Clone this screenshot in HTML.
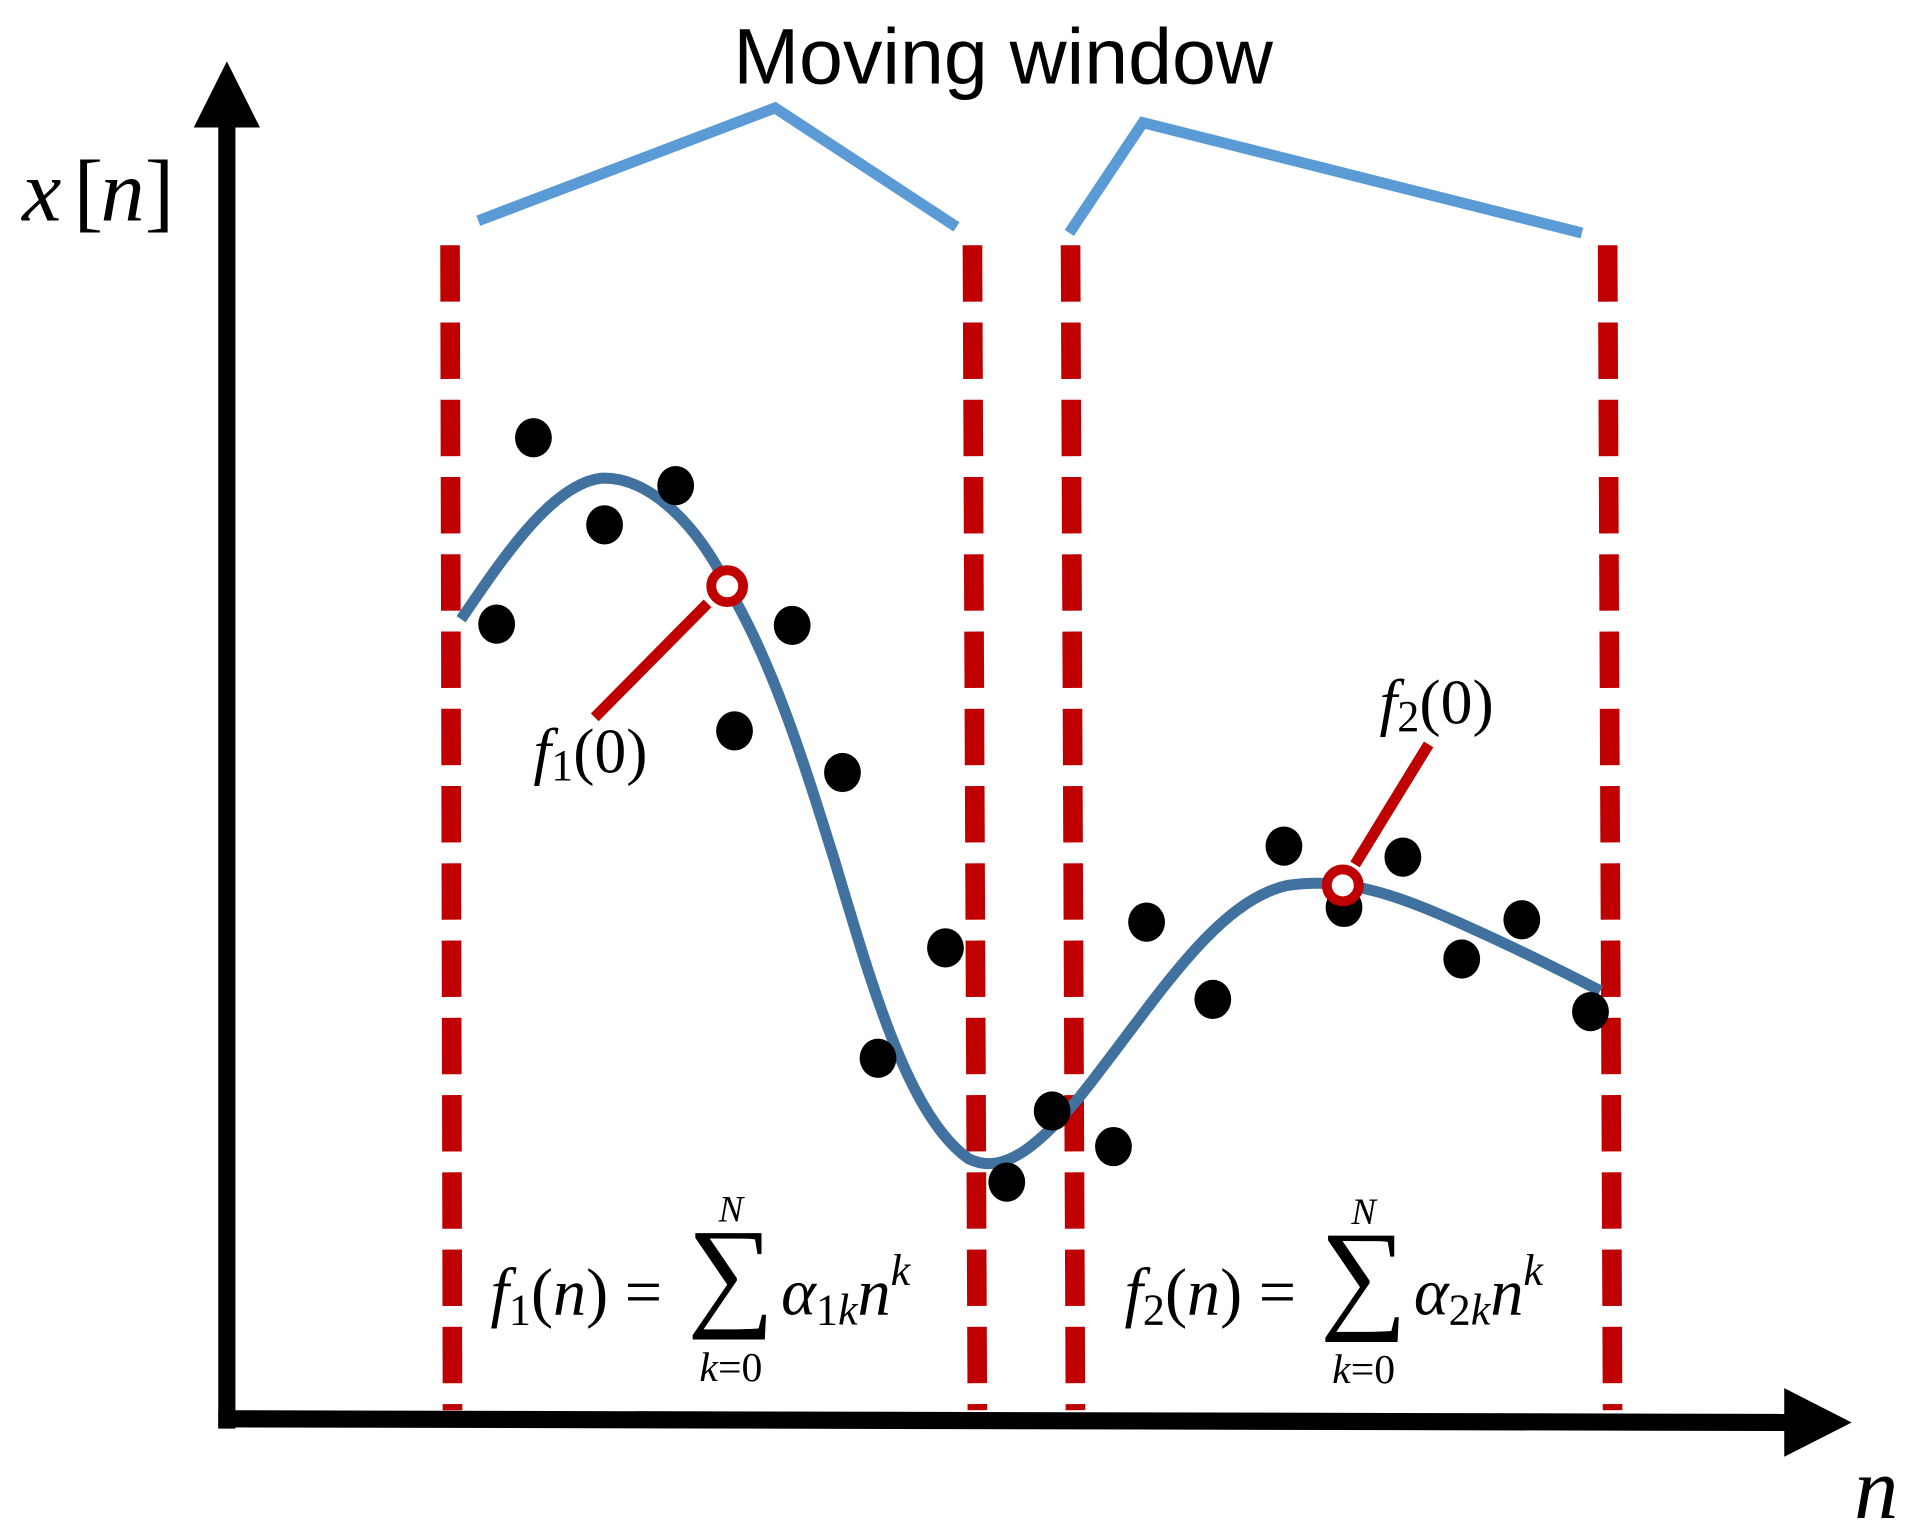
<!DOCTYPE html>
<html><head><meta charset="utf-8"><style>
html,body{margin:0;padding:0;background:#fff;}
svg{display:block;}
.m{font-family:"Liberation Serif","DejaVu Serif",serif;font-style:italic;fill:#000;}
.r{font-family:"Liberation Serif","DejaVu Serif",serif;fill:#000;}
</style></head><body>
<svg width="1913" height="1531" viewBox="0 0 1560 1248.5" preserveAspectRatio="none" xmlns="http://www.w3.org/2000/svg">
<rect width="1560" height="1249" fill="#fff"/>
<line x1="185" y1="100" x2="185" y2="1165" stroke="#000" stroke-width="14"/>
<polygon points="185,50 158,104 212,104" fill="#000"/>
<line x1="178" y1="1157" x2="1460" y2="1160" stroke="#000" stroke-width="14"/>
<polygon points="1510,1160 1455,1132 1455,1188" fill="#000"/>
<text x="18" y="180" class="m" font-size="72">x</text>
<text x="60" y="180" class="r" font-size="72">[</text>
<text x="82" y="180" class="m" font-size="72">n</text>
<text x="118" y="180" class="r" font-size="72">]</text>
<text x="1512" y="1238" class="m" font-size="72">n</text>
<text x="818" y="68" text-anchor="middle" font-family="Liberation Sans,sans-serif" font-size="64" fill="#000" textLength="440" lengthAdjust="spacingAndGlyphs">Moving window</text>
<polyline points="390,180 632,88 780,185" fill="none" stroke="#5b9bd5" stroke-width="9"/>
<polyline points="872,190 932,100 1290,190" fill="none" stroke="#5b9bd5" stroke-width="9"/>
<g stroke="#c00000" stroke-width="16" stroke-dasharray="46,17" fill="none">
<line x1="367" y1="200" x2="369" y2="1150"/>
<line x1="793" y1="200" x2="797" y2="1150"/>
<line x1="873" y1="200" x2="877" y2="1150"/>
<line x1="1311" y1="200" x2="1315" y2="1150"/>
</g>
<path d="M376,505 C410,455 450,395 490,390 C530,388 570,430 593,478 C630,540 655,620 680,700 C710,800 740,910 790,945 C820,960 850,930 880,895 C940,820 990,735 1050,722 C1100,715 1140,730 1200,757 C1240,775 1270,790 1305,808" fill="none" stroke="#41729f" stroke-width="9"/>
<g fill="#000">
<ellipse cx="435" cy="357" rx="15" ry="16"/><ellipse cx="405" cy="509" rx="15" ry="16"/>
<ellipse cx="493" cy="428" rx="15" ry="16"/><ellipse cx="551" cy="396" rx="15" ry="16"/>
<ellipse cx="646" cy="510" rx="15" ry="16"/><ellipse cx="599" cy="596" rx="15" ry="16"/>
<ellipse cx="687" cy="630" rx="15" ry="16"/><ellipse cx="771" cy="773" rx="15" ry="16"/>
<ellipse cx="716" cy="863" rx="15" ry="16"/><ellipse cx="821" cy="964" rx="15" ry="16"/>
<ellipse cx="858" cy="906" rx="15" ry="16"/><ellipse cx="908" cy="935" rx="15" ry="16"/>
<ellipse cx="935" cy="752" rx="15" ry="16"/><ellipse cx="989" cy="815" rx="15" ry="16"/>
<ellipse cx="1047" cy="690" rx="15" ry="16"/><ellipse cx="1096" cy="740" rx="15" ry="16"/>
<ellipse cx="1144" cy="699" rx="15" ry="16"/><ellipse cx="1192" cy="782" rx="15" ry="16"/>
<ellipse cx="1241" cy="750" rx="15" ry="16"/><ellipse cx="1297" cy="825" rx="15" ry="16"/>
</g>
<line x1="485" y1="585" x2="577" y2="492" stroke="#c00000" stroke-width="9"/>
<line x1="1105" y1="705" x2="1165" y2="607" stroke="#c00000" stroke-width="9"/>
<circle cx="593" cy="478" r="13" fill="#fff" stroke="#c00000" stroke-width="8"/>
<circle cx="1095" cy="722" r="13" fill="#fff" stroke="#c00000" stroke-width="8"/>
<text x="435" y="630" class="m" font-size="52">f<tspan font-style="normal" font-size="36" dy="6">1</tspan><tspan font-style="normal" font-size="52" dy="-6">(0)</tspan></text>
<text x="1125" y="590" class="m" font-size="52">f<tspan font-style="normal" font-size="36" dy="6">2</tspan><tspan font-style="normal" font-size="52" dy="-6">(0)</tspan></text>
<g>
<text x="400" y="1072" class="m" font-size="54">f<tspan font-style="normal" font-size="36" dy="8">1</tspan><tspan font-style="normal" dy="-8" font-size="54">(</tspan>n<tspan font-style="normal">) =</tspan></text>
<text x="596" y="1071" text-anchor="middle" class="r" font-size="100">∑</text>
<text x="596" y="996" text-anchor="middle" class="m" font-size="30">N</text>
<text x="596" y="1126" text-anchor="middle" class="m" font-size="34">k<tspan font-style="normal">=0</tspan></text>
<text x="637" y="1072" class="m" font-size="54">α<tspan font-style="normal" font-size="36" dy="8">1</tspan><tspan font-size="36">k</tspan><tspan dy="-8" font-size="54">n</tspan><tspan dy="-24" font-size="36">k</tspan></text>
</g>
<g>
<text x="917" y="1072" class="m" font-size="54">f<tspan font-style="normal" font-size="36" dy="8">2</tspan><tspan font-style="normal" dy="-8" font-size="54">(</tspan>n<tspan font-style="normal">) =</tspan></text>
<text x="1112" y="1073" text-anchor="middle" class="r" font-size="100">∑</text>
<text x="1112" y="998" text-anchor="middle" class="m" font-size="30">N</text>
<text x="1112" y="1128" text-anchor="middle" class="m" font-size="34">k<tspan font-style="normal">=0</tspan></text>
<text x="1153" y="1072" class="m" font-size="54">α<tspan font-style="normal" font-size="36" dy="8">2</tspan><tspan font-size="36">k</tspan><tspan dy="-8" font-size="54">n</tspan><tspan dy="-24" font-size="36">k</tspan></text>
</g>
</svg>
</body></html>
